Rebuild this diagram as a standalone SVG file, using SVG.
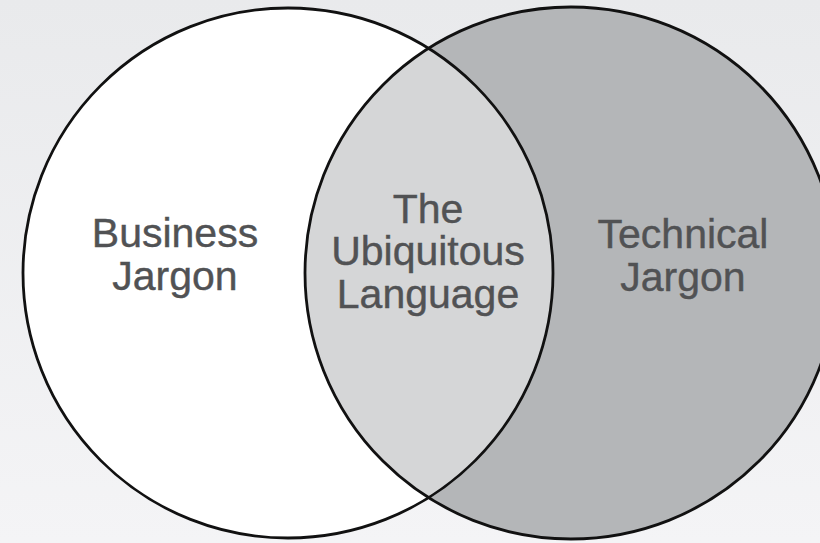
<svg xmlns="http://www.w3.org/2000/svg" width="820" height="543" viewBox="0 0 820 543">
  <defs>
    <linearGradient id="bg" x1="0" y1="0" x2="0" y2="1">
      <stop offset="0" stop-color="#e9eaec"/>
      <stop offset="1" stop-color="#f4f4f6"/>
    </linearGradient>
    <clipPath id="leftClip">
      <circle cx="288" cy="273" r="265"/>
    </clipPath>
    <style>
      .label { font-family: "Liberation Sans", Arial, sans-serif; font-size: 41px; fill: #515254; stroke: #515254; stroke-width: 0.4; text-anchor: middle; }
      .ring { fill: none; stroke: #111; stroke-width: 2.8; }
    </style>
  </defs>

  <rect width="820" height="543" fill="url(#bg)"/>

  <!-- region fills -->
  <g id="business">
    <circle cx="288" cy="273" r="265" fill="#ffffff"/>
  </g>
  <g id="technical">
    <circle cx="571" cy="273" r="266" fill="#b4b6b8"/>
  </g>
  <g id="ubiquitous">
    <circle cx="571" cy="273" r="266" fill="#d5d6d7" clip-path="url(#leftClip)"/>
  </g>

  <!-- circle outlines -->
  <g id="outlines">
    <circle class="ring" cx="288" cy="273" r="265"/>
    <circle class="ring" cx="571" cy="273" r="266"/>
  </g>

  <!-- labels -->
  <g id="labels">
    <text class="label" x="175" y="247">Business</text>
    <text class="label" x="175" y="290">Jargon</text>
    <text class="label" x="428" y="223">The</text>
    <text class="label" x="428" y="265">Ubiquitous</text>
    <text class="label" x="428" y="308">Language</text>
    <text class="label" x="683" y="248">Technical</text>
    <text class="label" x="683" y="291">Jargon</text>
  </g>
</svg>
